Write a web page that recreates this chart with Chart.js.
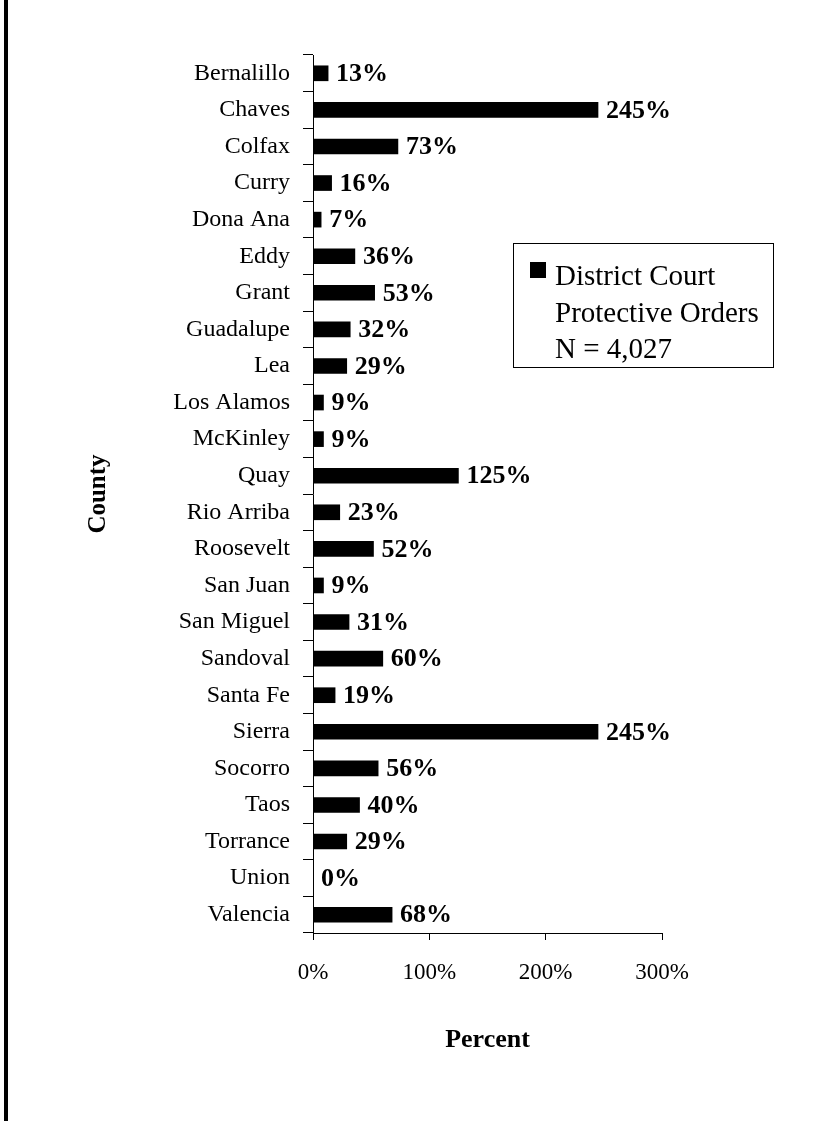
<!DOCTYPE html>
<html>
<head>
<meta charset="utf-8">
<style>
  html, body { margin: 0; padding: 0; background: #fff; }
  #wrap { position: relative; width: 817px; height: 1121px; }
</style>
<script src="https://cdn.jsdelivr.net/npm/chart.js@4.4.1/dist/chart.umd.min.js"></script>
</head>
<body>
<div id="wrap"><canvas id="chart" width="817" height="1121"></canvas></div>
<script>
// County categories, top to bottom
const counties = [
  'Bernalillo', 'Chaves', 'Colfax', 'Curry', 'Dona Ana', 'Eddy', 'Grant',
  'Guadalupe', 'Lea', 'Los Alamos', 'McKinley', 'Quay', 'Rio Arriba',
  'Roosevelt', 'San Juan', 'San Miguel', 'Sandoval', 'Santa Fe', 'Sierra',
  'Socorro', 'Taos', 'Torrance', 'Union', 'Valencia'
];

// Percent values per county
const percentValues = [
  13, 245, 73, 16, 7, 36, 53, 32, 29, 9, 9, 125, 23,
  52, 9, 31, 60, 19, 245, 56, 40, 29, 0, 68
];

// Axis tick values
const xTicks = [0, 100, 200, 300];

const seriesName = 'District Court Protective Orders';
const legendLines = ['District Court', 'Protective Orders', 'N = 4,027'];
const xTitle = 'Percent';
const yTitle = 'County';

const SERIF = '"Liberation Serif", "Times New Roman", serif';

// Thick rule along the left edge of the page
const edgeRule = {
  id: 'edgeRule',
  beforeDraw(chart) {
    const ctx = chart.ctx;
    ctx.save();
    ctx.fillStyle = '#000';
    ctx.fillRect(4, 0, 4, chart.height);
    ctx.restore();
  }
};

// Bold percentage next to the end of each bar
const valueLabels = {
  id: 'valueLabels',
  afterDatasetsDraw(chart) {
    const ctx = chart.ctx;
    const meta = chart.getDatasetMeta(0);
    const data = chart.data.datasets[0].data;
    ctx.save();
    ctx.fillStyle = '#000';
    ctx.font = 'bold 26px ' + SERIF;
    ctx.textAlign = 'left';
    ctx.textBaseline = 'middle';
    meta.data.forEach((bar, i) => {
      ctx.fillText(data[i] + '%', bar.x + 8, bar.y + 1);
    });
    ctx.restore();
  }
};

// Boxed legend with a multi-line series label
const boxLegend = {
  id: 'boxLegend',
  afterDraw(chart) {
    const ctx = chart.ctx;
    const ds = chart.data.datasets[0];
    ctx.save();
    ctx.fillStyle = '#fff';
    ctx.fillRect(513, 243, 260, 124);
    ctx.strokeStyle = '#000';
    ctx.lineWidth = 1;
    ctx.strokeRect(513.5, 243.5, 260, 124);
    ctx.fillStyle = ds.backgroundColor;
    ctx.fillRect(530, 262, 16, 16);
    ctx.fillStyle = '#000';
    ctx.font = '29px ' + SERIF;
    ctx.textAlign = 'left';
    ctx.textBaseline = 'alphabetic';
    const baselines = [285, 322, 358];
    legendLines.forEach((t, i) => ctx.fillText(t, 555, baselines[i]));
    ctx.restore();
  }
};

new Chart(document.getElementById('chart'), {
  type: 'bar',
  data: {
    labels: counties,
    datasets: [{
      label: seriesName,
      data: percentValues,
      backgroundColor: '#000',
      borderWidth: 0,
      barThickness: 15
    }]
  },
  options: {
    indexAxis: 'y',
    responsive: false,
    animation: false,
    devicePixelRatio: 1,
    layout: { padding: { top: 55, right: 155, bottom: 0, left: 0 } },
    plugins: {
      legend: { display: false },
      tooltip: { enabled: false }
    },
    scales: {
      x: {
        type: 'linear',
        min: 0,
        max: 300,
        afterBuildTicks(scale) { scale.ticks = xTicks.map(v => ({ value: v })); },
        afterFit(scale) { scale.height = 188; },
        border: { display: true, color: '#000', width: 1 },
        grid: { drawOnChartArea: false, drawTicks: true, tickLength: 7, color: '#000' },
        ticks: {
          color: '#000',
          padding: 19,
          maxRotation: 0,
          font: { family: SERIF, size: 23 },
          callback: v => v + '%'
        },
        title: {
          display: true,
          text: xTitle,
          color: '#000',
          font: { family: SERIF, size: 26, weight: 'bold' },
          padding: { top: 0, bottom: 65 }
        }
      },
      y: {
        type: 'category',
        afterFit(scale) { scale.width = 313; },
        border: { display: true, color: '#000', width: 1 },
        grid: { offset: true, drawOnChartArea: false, drawTicks: true, tickLength: 10, color: '#000' },
        ticks: {
          color: '#000',
          padding: 13,
          autoSkip: false,
          font: { family: SERIF, size: 24 }
        },
        title: {
          display: true,
          text: yTitle,
          color: '#000',
          font: { family: SERIF, size: 25, weight: 'bold' },
          padding: { top: 84, bottom: 0 }
        }
      }
    }
  },
  plugins: [edgeRule, valueLabels, boxLegend]
});
</script>
</body>
</html>
